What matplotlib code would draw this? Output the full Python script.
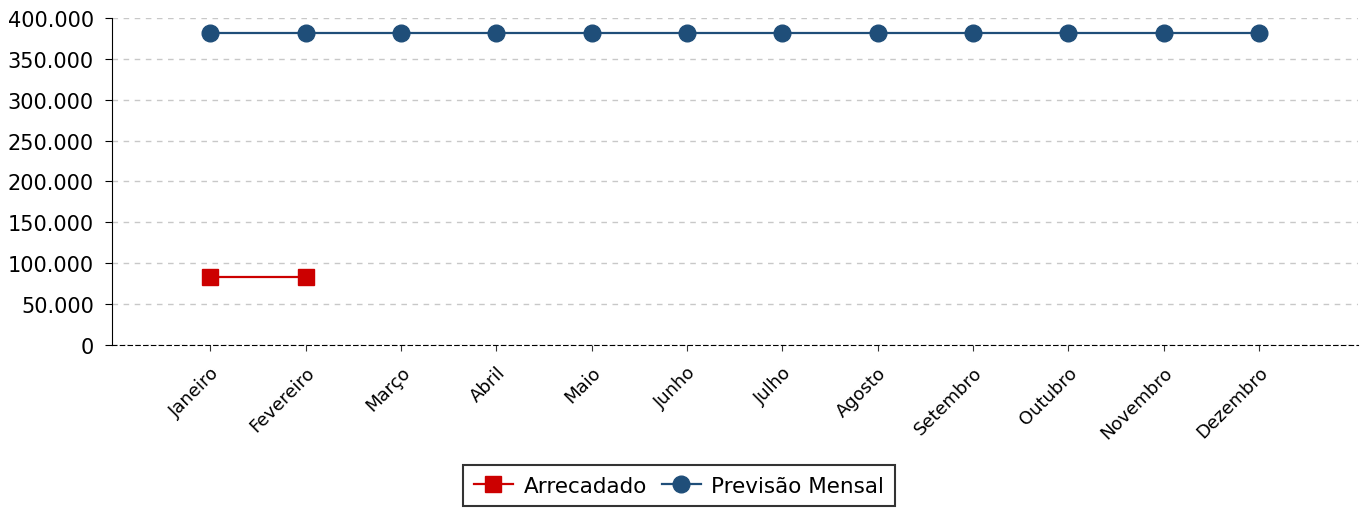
import matplotlib
matplotlib.use("Agg")
import matplotlib.pyplot as plt
from matplotlib.ticker import FuncFormatter

plt.rcParams["font.family"] = ["DejaVu Sans"]

months = ["Janeiro", "Fevereiro", "Março", "Abril", "Maio", "Junho", "Julho",
          "Agosto", "Setembro", "Outubro", "Novembro", "Dezembro"]
arrecadado = [83000, 83000]
previsao = [381700] * 12
yticks = [0, 50000, 100000, 150000, 200000, 250000, 300000, 350000, 400000]

fig = plt.figure(figsize=(13.65, 5.10), dpi=100)
ax = fig.add_axes([112/1365, 1 - 346/510, (1358-112)/1365, (346-19)/510])

x_all = list(range(len(months)))
ax.plot(x_all[:len(arrecadado)], arrecadado, color="#CC0000", marker="s",
        markersize=12, linewidth=1.6, label="Arrecadado", zorder=3)
ax.plot(x_all, previsao, color="#1F4E79", marker="o",
        markersize=12, linewidth=1.6, label="Previsão Mensal", zorder=3)

ax.set_xlim(-1.03, 12.04)
ax.set_ylim(0, 400000)
ax.set_yticks(yticks)
ax.yaxis.set_major_formatter(FuncFormatter(lambda v, p: f"{int(v):,}".replace(",", ".")))
ax.set_xticks(x_all)
ax.set_xticklabels(months, rotation=45, ha="right", rotation_mode="anchor", fontsize=13)
ax.tick_params(axis="y", labelsize=15, length=5, color="black", pad=8)
ax.tick_params(axis="x", length=4, color="#333333", pad=9)

ax.grid(axis="y", linestyle=(0, (4, 4)), color="#C8C8C8", linewidth=1)
ax.set_axisbelow(True)
for s in ["top", "right"]:
    ax.spines[s].set_visible(False)
ax.spines["left"].set_color("black")
ax.spines["bottom"].set_linestyle((0, (4, 3)))
ax.spines["bottom"].set_color("black")

leg = fig.legend(loc="lower center", bbox_to_anchor=(0.4975, -0.016), ncol=2, fontsize=15.5,
                 frameon=True, fancybox=False, edgecolor="black",
                 handlelength=1.8, columnspacing=0.7, borderpad=0.5, handletextpad=0.5)
leg.get_frame().set_linewidth(1.5)

fig.savefig("out.png", dpi=100)
